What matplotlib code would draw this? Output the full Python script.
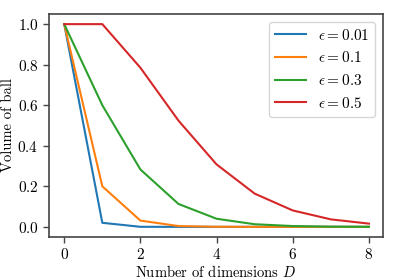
import matplotlib
matplotlib.use("Agg")
import matplotlib.pyplot as plt

plt.rcParams['font.family'] = 'serif'
plt.rcParams['font.serif'] = ['cmr10', 'DejaVu Serif']
plt.rcParams['mathtext.fontset'] = 'cm'
plt.rcParams['axes.formatter.use_mathtext'] = True
plt.rcParams['axes.unicode_minus'] = False

dims = [0, 1, 2, 3, 4, 5, 6, 7, 8]
vol_001 = [1.0, 0.02, 0.0003, 0.0, 0.0, 0.0, 0.0, 0.0, 0.0]
vol_01 = [1.0, 0.2, 0.031, 0.004, 0.0005, 0.0, 0.0, 0.0, 0.0]
vol_03 = [1.0, 0.6, 0.283, 0.113, 0.040, 0.013, 0.004, 0.001, 0.0003]
vol_05 = [1.0, 1.0, 0.785, 0.524, 0.308, 0.164, 0.081, 0.037, 0.016]
labels = [r'$\epsilon = 0.01$', r'$\epsilon = 0.1$', r'$\epsilon = 0.3$', r'$\epsilon = 0.5$']
colors = ['#1f77b4', '#ff7f0e', '#2ca02c', '#d62728']

fig = plt.figure(figsize=(3.99, 2.79), dpi=100)
ax = fig.add_axes([49/399, 1 - 237/279, (383 - 49)/399, (237 - 14)/279])
for ys, lab, c in zip([vol_001, vol_01, vol_03, vol_05], labels, colors):
    ax.plot(dims, ys, color=c, label=lab, lw=1.5)

ax.set_xlim(-0.4, 8.37)
ax.set_ylim(-0.05, 1.05)
ax.set_xticks([0, 2, 4, 6, 8])
ax.set_yticks([0.0, 0.2, 0.4, 0.6, 0.8, 1.0])
ax.set_xlabel(r'Number of dimensions $D$', fontsize=10.5, labelpad=1)
ax.set_ylabel('Volume of ball', fontsize=10.5, labelpad=2)
ax.tick_params(labelsize=11, color='#444444', width=1.0, length=4)
for s in ax.spines.values():
    s.set_color('#444444')
    s.set_linewidth(1.2)
leg = ax.legend(fontsize=11, loc='upper right', handlelength=2.0, frameon=True)
fig.savefig('out.png', dpi=100)
